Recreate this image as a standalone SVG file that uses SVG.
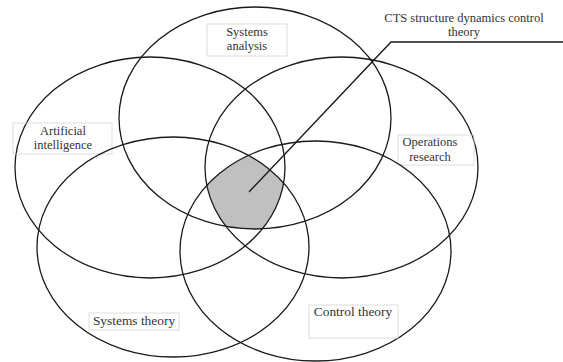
<svg xmlns="http://www.w3.org/2000/svg" width="563" height="362" viewBox="0 0 563 362">
<style>
.e{fill:none;stroke:#1a1a1a;stroke-width:1.3}
.b{fill:none;stroke:#d4d4d4;stroke-width:0.8}
.t{font-family:"Liberation Serif","Times New Roman",serif;font-size:13.4px;fill:#333;text-anchor:middle}
.t2{font-family:"Liberation Serif","Times New Roman",serif;font-size:12.5px;fill:#333;text-anchor:middle}
.l{fill:none;stroke:#1a1a1a;stroke-width:1.4}
</style>
<defs>
<clipPath id="cSA"><ellipse cx="255" cy="118" rx="136" ry="111"/></clipPath>
<clipPath id="cAI"><ellipse cx="150" cy="167.5" rx="135" ry="110.5"/></clipPath>
<clipPath id="cOR"><ellipse cx="341.5" cy="167.5" rx="136.5" ry="110.5"/></clipPath>
<clipPath id="cST"><ellipse cx="173" cy="247" rx="136" ry="110"/></clipPath>
</defs>
<rect width="563" height="362" fill="#fff"/>
<g id="core">
<g clip-path="url(#cSA)"><g clip-path="url(#cAI)"><g clip-path="url(#cOR)"><g clip-path="url(#cST)">
<ellipse cx="315.5" cy="251" rx="135.5" ry="110" fill="#c0c0c0"/>
</g></g></g></g>
</g>
<g id="systems-analysis">
<ellipse class="e" cx="255" cy="118" rx="136" ry="111"/>
<rect class="b" x="207" y="24" width="80" height="32"/>
<text class="t2" x="247" y="35.5">Systems</text>
<text class="t2" x="247" y="50">analysis</text>
</g>
<g id="artificial-intelligence">
<ellipse class="e" cx="150" cy="167.5" rx="135" ry="110.5"/>
<rect class="b" x="13" y="123" width="99" height="31"/>
<text class="t2" x="63" y="134.5">Artificial</text>
<text class="t2" x="63" y="149">intelligence</text>
</g>
<g id="operations-research">
<ellipse class="e" cx="341.5" cy="167.5" rx="136.5" ry="110.5"/>
<rect class="b" x="398" y="135" width="76" height="30"/>
<text class="t2" x="430" y="146">Operations</text>
<text class="t2" x="430" y="160.5">research</text>
</g>
<g id="systems-theory">
<ellipse class="e" cx="173" cy="247" rx="136" ry="110"/>
<rect class="b" x="89" y="313" width="90" height="17"/>
<text class="t" x="134" y="325">Systems theory</text>
</g>
<g id="control-theory">
<ellipse class="e" cx="315.5" cy="251" rx="135.5" ry="110"/>
<rect class="b" x="309" y="305" width="89" height="33"/>
<text class="t" x="353" y="316">Control theory</text>
</g>
<g id="connectors">
<polyline class="l" points="249,192 391,42 563,42"/>
</g>
<g id="cts-label">
<text class="t2" x="464" y="21.5">CTS structure dynamics control</text>
<text class="t2" x="464" y="36">theory</text>
</g>
</svg>
